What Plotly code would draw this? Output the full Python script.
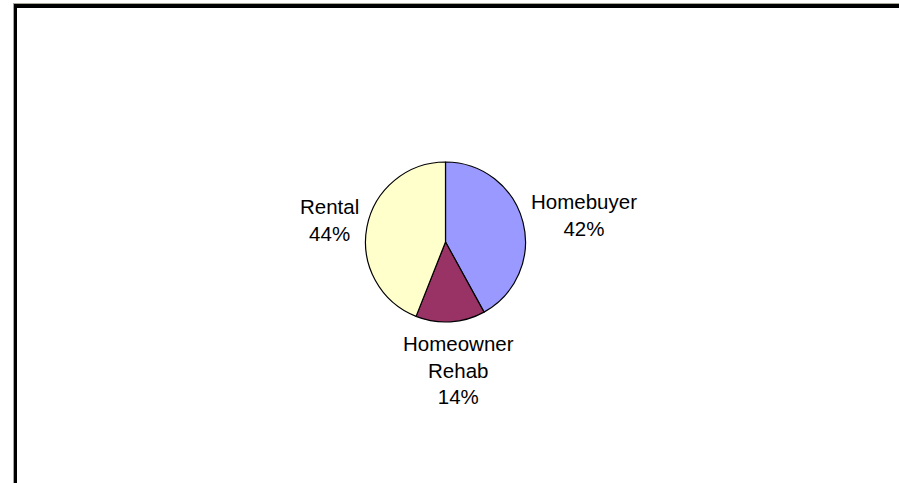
import math
import plotly.graph_objects as go

# Data
categories = ["Homebuyer", "Homeowner<br>Rehab", "Rental"]
values = [42, 14, 44]
colors = ["#9999FF", "#993366", "#FFFFCC"]

W, H = 899, 483
CX, CY, R = 445.5, 242.0, 80.0

fig = go.Figure(go.Pie(
    labels=categories,
    values=values,
    sort=False,
    direction="clockwise",
    rotation=0,
    marker=dict(colors=colors, line=dict(color="black", width=1.2)),
    textinfo="none",
    hoverinfo="label+percent",
    showlegend=False,
    domain=dict(x=[(CX - R) / W, (CX + R) / W], y=[1 - (CY + R) / H, 1 - (CY - R) / H]),
))

# Data labels placed outside each slice, at the slice's mid-angle
total = sum(values)
cum = 0.0
annotations = []
for lab, v in zip(categories, values):
    mid = (cum + v / 2) / total * 2 * math.pi
    cum += v
    gap = 6
    px = CX + (R + gap) * math.sin(mid)
    py = CY - (R + gap) * math.cos(mid)
    s, c = math.sin(mid), math.cos(mid)
    if abs(s) > 0.7:
        xanchor = "left" if s > 0 else "right"
        yanchor = "middle"
        py -= 6
    else:
        xanchor = "center"
        yanchor = "top" if c < 0 else "bottom"
        px += 8
        py += 2
    pct = round(v / total * 100)
    annotations.append(dict(
        x=px / W, y=1 - py / H, xref="paper", yref="paper",
        text=f"{lab}<br>{pct}%", showarrow=False,
        xanchor=xanchor, yanchor=yanchor, align="center",
        font=dict(family="Liberation Sans, Arial", size=20.5, color="black"),
    ))

def px2x(p):
    return p / W

def px2y(p):
    return 1 - p / H

shapes = [
    # gray outer edges
    dict(type="rect", xref="paper", yref="paper", x0=px2x(13), x1=px2x(W), y0=px2y(3), y1=px2y(4),
         fillcolor="#A8A69B", line=dict(width=0), layer="above"),
    dict(type="rect", xref="paper", yref="paper", x0=px2x(13), x1=px2x(14), y0=px2y(3), y1=px2y(H),
         fillcolor="#A8A69B", line=dict(width=0), layer="above"),
    # black inner edges
    dict(type="rect", xref="paper", yref="paper", x0=px2x(14), x1=px2x(W), y0=px2y(4), y1=px2y(8),
         fillcolor="black", line=dict(width=0), layer="above"),
    dict(type="rect", xref="paper", yref="paper", x0=px2x(14), x1=px2x(17), y0=px2y(4), y1=px2y(H),
         fillcolor="black", line=dict(width=0), layer="above"),
]

fig.update_layout(
    width=W, height=H,
    margin=dict(l=0, r=0, t=0, b=0),
    paper_bgcolor="white", plot_bgcolor="white",
    annotations=annotations,
    shapes=shapes,
)

fig.write_html(
    "out.html",
    config={"displayModeBar": False},
    post_script="document.body.style.margin='0px';document.body.style.overflow='hidden';",
)
